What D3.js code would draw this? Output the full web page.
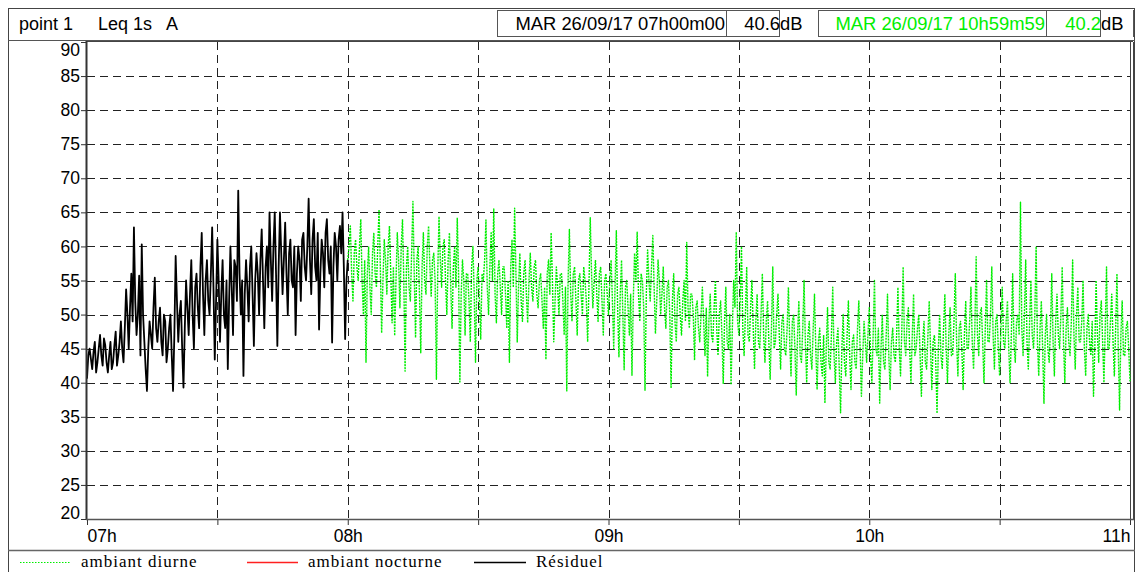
<!DOCTYPE html>
<html>
<head>
<meta charset="utf-8">
<script src="https://cdn.jsdelivr.net/npm/d3@7"></script>
<style>
  body { margin: 0; background: #fff; }
  svg { display: block; }
</style>
</head>
<body>
<svg id="chart" width="1137" height="572"></svg>
<script>
// Leq 1s dB(A), one value every 18 s (200 samples per hour)
const samplesPerHour = 200;

// Résiduel: 07h00 -> 08h00
const residuelStartHour = 7;
const residuel = [
  40.6,44,45,43.5,42,44.5,46,41.5,43,45,47,44,42.5,46.5,45.5,43,41.5,44,46,42,
  43,45.5,47.5,42.5,44,46,49,45,43,48,53.7,50,45,51,56,49,62.8,52,47,50,
  55.7,44,60.3,50,46,42,38.8,45,49,47,45,51,55.4,48,46,49,51,46,44,50,
  49,43,45,48,50,44,38.8,47,58.6,52,46,50,52,45,39.3,48,55,51,47,53,
  58,50,45,54,56,51,48,57,62,53,47,55,58,52,50,56,62.8,54,43.4,52,
  61,55,46,53,58,50,48,55,42,52,60,54,47,58,57,52,68.2,56,50,55,
  41,53,58,54,49,57,60,53,45.4,55,59,56,50,58,62.5,55,48,57,60,54,
  65,58,52,60,65,56,45.4,57,65,59,53,58,63.5,56,50,59,61,55,54,60,
  47,56,60,58,52,61,62,57,55,60,67,58,53,61,64,57,55,62,47.8,56,
  61,59,54,62,64,58,56,60,45.9,57,62,60,55,61,63,59,65,57,46.4,55,
  58
];

// Ambiant diurne: 08h00 -> 10h59m59
const diurneStartHour = 8;
const diurne = [
  58,60,63,56,52,59,61,57,55,60,64,55,50,58,43,56,60,54,50,59,
  62,56,54,60,65.4,57,47.3,55,61,58,53,60,63,56,48.8,57,46.9,55,62,58,
  51,60,64,55,41.7,57,60,54,52,59,66.6,56,46.6,58,60,53,44.4,57,62,55,
  53,60,63,57,52.7,58,59,55,40.5,56,64.4,58,54,60,61,55,50,58,62,54,
  48,57,60,54,64.2,56,40.1,53,58,55,47,56,56,52,46,57,60,53,43,55,
  57,52,46.4,56,55,58,63.9,54,50,57,62,55,65.5,53,48.8,56,58,54,50,57,
  57,53,48,55,43,57,61,54,65.6,56,45.9,54,59,52,49,56,58,53,48.8,55,
  59,54,52,57,58,53,51,55,56,52,48,54,43.4,56,58,53,62,55,46,52,
  57,54,50,56,56,52,47,54,38.8,55,62.5,53,49,56,57,52,47,55,56,53,
  50,57,55,52,46,54,64.2,56,51,55,58,53,49,56,57,52,47,55,56,53,
  50,55,58,52,45,54,62.3,51,43.8,53,58,50,41.9,54,55,51,47,53,41.1,52,
  59,55,62.1,53,49,56,55,51,38.9,53,59.5,55,52,57,61.6,54,47.2,52,58,55,
  50,53,57,51,48,54,55,50,39.2,52,56,49,46,53,54,50,47,52,55,49,
  60.6,51,48,53,53,50,43.3,51,52,48,46,50,54,49,44,51,40.9,49,53,47,
  46,51,55,48,44,50,52,47,39.9,49,54,46,45,50,39.7,48,55,51,62.1,49,
  47,52,60,48,44,50,57,47,46,51,55,48,42,49,53,46,45,50,56,47,
  43,49,52,46,40.5,48,57,45,46,50,53,47,42,49,50,45,44,48,54,46,
  41,49,50,45,38.2,47,52,44,43,48,55,46,40,47,49,44,42,48,53,45,
  39,46,48,43,41,47,37,45,51,43,42,47,54,44,40,46,48,42,35.6,45,
  50,43,41,47,52,44,39,46,47,43,42,48,52,45,38,44,49,46,43,47,
  51,44,40,47,55,45,44,48,37,45,50,43,42,47,53,44,39,46,48,44,
  43,47,54,45,41,48,57,46,44,49,51,45,40,47,53,44,45,48,50,44,
  38,46,49,43,42,47,52,45,39,46,47,43,35.5,45,50,44,42,48,53,45,
  40,47,51,44,44,49,56,46,41,48,49,45,39,47,52,45,45,49,54,46,
  42,48,58.5,47,44,50,51,46,40,48,55,46,46,50,57,47,42,49,50,45,
  41,48,54,46,45,49,52,45,40,47,56,46,43,49,50,47,66.5,48,44,50,
  58,46,42,49,55,47,45,50,60,46,41,48,52,45,37,47,50,45,43,48,
  56,46,41,49,53,47,45,50,57,46,40,48,51,46,44,49,58,47,42,50,
  54,46,46,49,55,45,41,48,50,46,44,49,38,45,55,47,43,50,52,46,
  40,48,57,45,45,49,53,46,41,48,56,45,36,47,52,44,44,48,49,45,
  40.2
];

// Ambiant nocturne: no samples in this period
const nocturne = [];

const yTicks = [20,25,30,35,40,45,50,55,60,65,70,75,80,85,90];
const xTicks = [7,7.5,8,8.5,9,9.5,10,10.5,11];
const xTickLabels = ["07h","","08h","","09h","","10h","","11h"];

const cursorStart = { date: "MAR 26/09/17 07h00m00", value: "40.6", unit: "dB" };
const cursorEnd   = { date: "MAR 26/09/17 10h59m59", value: "40.2", unit: "dB" };
const headerTitle = ["point 1", "Leq 1s", "A"];

const legendItems = [
  { label: "ambiant diurne",   color: "#00ee00", dash: "1.5,1.5" },
  { label: "ambiant nocturne", color: "#ff2020", dash: null },
  { label: "Résiduel",         color: "#000000", dash: null }
];

const GREEN = "#00ee00";
const SANS = "'Liberation Sans', Arial, sans-serif";
const SERIF = "'Liberation Serif', 'Times New Roman', serif";

const svg = d3.select("#chart");
const plot = { left: 87, right: 1130, top: 42, bottom: 519 };

const x = d3.scaleLinear().domain([7, 11]).range([plot.left, plot.right]);
const y = d3.scaleLinear().domain([20, 90]).range([plot.bottom, plot.top]);

// ---- outer frame ----
svg.append("rect").attr("x", 8.5).attr("y", 8.5).attr("width", 1126).attr("height", 570)
  .attr("fill", "none").attr("stroke", "#444").attr("stroke-width", 1);

// ---- header row ----
svg.append("line").attr("x1", 8).attr("x2", 1135).attr("y1", 40.5).attr("y2", 40.5)
  .attr("stroke", "#555").attr("stroke-width", 1.2);

const titleX = [19, 98, 166];
headerTitle.forEach((t, i) => {
  svg.append("text").attr("x", titleX[i]).attr("y", 30)
    .style("font-family", SANS).style("font-size", "18px").attr("fill", "#000").text(t);
});

function cursorBox(c, x0, x1, x2, color) {
  const g = svg.append("g").style("font-family", SANS).style("font-size", "18.4px");
  g.append("rect").attr("x", x0 + 0.5).attr("y", 10.5).attr("width", x1 - x0).attr("height", 26)
    .attr("fill", "#fff").attr("stroke", "#555");
  g.append("rect").attr("x", x1 + 0.5).attr("y", 10.5).attr("width", x2 - x1).attr("height", 26)
    .attr("fill", "#fff").attr("stroke", "#555");
  g.append("text").attr("x", x1 - 1).attr("y", 30).attr("text-anchor", "end")
    .attr("fill", color).text(c.date);
  g.append("text").attr("x", x2 + 1).attr("y", 30).attr("text-anchor", "end")
    .attr("fill", color).text(c.value);
  g.append("text").attr("x", x2 + 1).attr("y", 30)
    .attr("fill", "#000").text(c.unit);
}
cursorBox(cursorStart, 497, 726, 779, "#000");
cursorBox(cursorEnd, 818, 1046, 1100, GREEN);
svg.append("line").attr("x1", 1133.5).attr("x2", 1133.5).attr("y1", 10).attr("y2", 37)
  .attr("stroke", "#555");

// ---- grid ----
const grid = svg.append("g");
grid.selectAll("line.h").data(yTicks.filter(d => d > 20 && d < 90)).join("line")
  .attr("x1", plot.left).attr("x2", plot.right)
  .attr("y1", d => Math.round(y(d)) + 0.5).attr("y2", d => Math.round(y(d)) + 0.5)
  .attr("stroke", "#222").attr("stroke-dasharray", "8,5");
grid.selectAll("line.v").data(xTicks.filter(d => d > 7 && d < 11)).join("line")
  .attr("y1", plot.top).attr("y2", plot.bottom)
  .attr("x1", d => Math.round(x(d)) + 0.5).attr("x2", d => Math.round(x(d)) + 0.5)
  .attr("stroke", "#222").attr("stroke-dasharray", "8,5");

// plot top border and right double border
svg.append("line").attr("x1", plot.left).attr("x2", plot.right + 3).attr("y1", plot.top - 0.5).attr("y2", plot.top - 0.5)
  .attr("stroke", "#444");
[plot.right, plot.right + 3].forEach(px => {
  svg.append("line").attr("x1", px + 0.5).attr("x2", px + 0.5).attr("y1", plot.top).attr("y2", plot.bottom)
    .attr("stroke", "#444");
});

// ---- series ----
const line = d3.line().x(d => x(d.t)).y(d => y(d.v));
const toPoints = (arr, start) => arr.map((v, i) => ({ t: start + i / samplesPerHour, v }));

svg.append("path").datum(toPoints(diurne, diurneStartHour))
  .attr("d", line).attr("fill", "none").attr("stroke", GREEN)
  .attr("stroke-width", 1.4).attr("stroke-dasharray", "2,1").attr("stroke-linejoin", "round");

svg.append("path").datum(toPoints(nocturne, 7))
  .attr("d", line).attr("fill", "none").attr("stroke", "#ff2020").attr("stroke-width", 1.2);

svg.append("path").datum(toPoints(residuel, residuelStartHour))
  .attr("d", line).attr("fill", "none").attr("stroke", "#000").attr("stroke-width", 1.8)
  .attr("stroke-linejoin", "round");

// ---- axes ----
const yAxis = svg.append("g").attr("transform", `translate(${plot.left},0)`)
  .call(d3.axisLeft(y).tickValues(yTicks).tickSize(6).tickPadding(1).tickFormat(d3.format("d")));
yAxis.select(".domain").remove();
yAxis.selectAll(".tick line").attr("stroke", "#333");
yAxis.selectAll(".tick text").attr("fill", "#000")
  .style("font-family", SANS).style("font-size", "17.5px")
  .attr("dy", d => d === 90 ? "0.75em" : d === 20 ? "-0.05em" : "0.32em");
svg.append("line").attr("x1", plot.left - 0.5).attr("x2", plot.left - 0.5)
  .attr("y1", plot.top - 1).attr("y2", plot.bottom + 1).attr("stroke", "#333").attr("stroke-width", 2);

const xAxis = svg.append("g").attr("transform", `translate(0,${plot.bottom})`)
  .call(d3.axisBottom(x).tickValues(xTicks).tickSize(6).tickPadding(5)
    .tickFormat((d, i) => xTickLabels[i]));
xAxis.select(".domain").remove();
xAxis.selectAll(".tick line").attr("stroke", "#333");
xAxis.selectAll(".tick text").attr("fill", "#000")
  .style("font-family", SANS).style("font-size", "17.5px")
  .attr("text-anchor", d => d === 7 ? "start" : d === 11 ? "end" : "middle");
svg.append("line").attr("x1", plot.left - 1).attr("x2", plot.right + 4)
  .attr("y1", plot.bottom + 0.5).attr("y2", plot.bottom + 0.5).attr("stroke", "#555").attr("stroke-width", 1.5);

// ---- legend ----
svg.append("line").attr("x1", 8).attr("x2", 1135).attr("y1", 550.5).attr("y2", 550.5)
  .attr("stroke", "#666").attr("stroke-width", 1.5);
const legendPos = [
  { x1: 20, x2: 71, tx: 81 },
  { x1: 247, x2: 298, tx: 308 },
  { x1: 474, x2: 526, tx: 536 }
];
legendItems.forEach((it, i) => {
  const p = legendPos[i];
  svg.append("line").attr("x1", p.x1).attr("x2", p.x2).attr("y1", 562.5).attr("y2", 562.5)
    .attr("stroke", it.color).attr("stroke-width", it.dash ? 1 : 1.3)
    .attr("stroke-dasharray", it.dash);
  svg.append("text").attr("x", p.tx).attr("y", 567)
    .style("font-family", SERIF).style("font-size", "17px").style("letter-spacing", "1px")
    .attr("fill", "#000").text(it.label);
});
</script>
</body>
</html>
